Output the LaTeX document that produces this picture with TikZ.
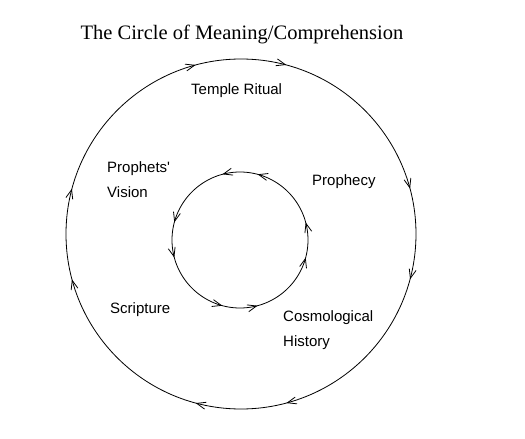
\documentclass[tikz,border=0pt]{standalone}
\usepackage{fontspec}
\setmainfont{Liberation Serif}
\newfontfamily\handfont{Liberation Sans}
\usepackage{tikz}
\usetikzlibrary{
	arrows.meta,
	decorations.markings
}
\tikzset{
  % arrow
	>={Straight Barb[length=9pt,width=7pt]},
  % curve
	cstcurve/.style       ={line width=0.8pt}, %圆
	cstcw/.style          ={postaction={decorate},decoration={markings,
		mark=at position 0.0417 with {\arrowreversed{>}},
		mark=at position 0.2083 with {\arrowreversed{>}},
		mark=at position 0.2917 with {\arrowreversed{>}},
		mark=at position 0.4583 with {\arrowreversed{>}},
		mark=at position 0.5417 with {\arrowreversed{>}},
		mark=at position 0.7083 with {\arrowreversed{>}},
		mark=at position 0.7917 with {\arrowreversed{>}},
		mark=at position 0.9583 with {\arrowreversed{>}}}}, %顺时针
	cstccw/.style         ={postaction={decorate},decoration={markings,
		mark=at position 0.0417 with {\arrow{>}},
		mark=at position 0.2083 with {\arrow{>}},
		mark=at position 0.2917 with {\arrow{>}},
		mark=at position 0.4583 with {\arrow{>}},
		mark=at position 0.5417 with {\arrow{>}},
		mark=at position 0.7083 with {\arrow{>}},
		mark=at position 0.7917 with {\arrow{>}},
		mark=at position 0.9583 with {\arrow{>}}}}, %逆时针
  % node
	csttitle/.style       ={font=\fontsize{20.5}{24}\selectfont,anchor=base,inner sep=0pt},
	cstlabel/.style       ={font=\handfont\fontsize{15}{25}\selectfont,align=left,anchor=base west,inner sep=0pt}
}
\begin{document}
\begin{tikzpicture}[x=1pt,y=1pt]
	\useasboundingbox (-241,-205) rectangle (284,234);
	\coordinate (O) at (0,0);
	\coordinate (I) at (-1,-6);
	\draw[cstcurve,cstcw] (O) circle[radius=175];
	\draw[cstcurve,cstccw] (I) circle[radius=68];
	\node[csttitle] (title) at (1,194) {The Circle of Meaning/Comprehension};
	\node[cstlabel] (temple) at (-50,139) {Temple Ritual};
	\node[cstlabel] (vision) at (-134,36) {Prophets'\\Vision};
	\node[cstlabel] (prophecy) at (71,48) {Prophecy};
	\node[cstlabel] (scripture) at (-131,-79) {Scripture};
	\node[cstlabel] (history) at (42,-112) {Cosmological\\History};
\end{tikzpicture}
\end{document}
